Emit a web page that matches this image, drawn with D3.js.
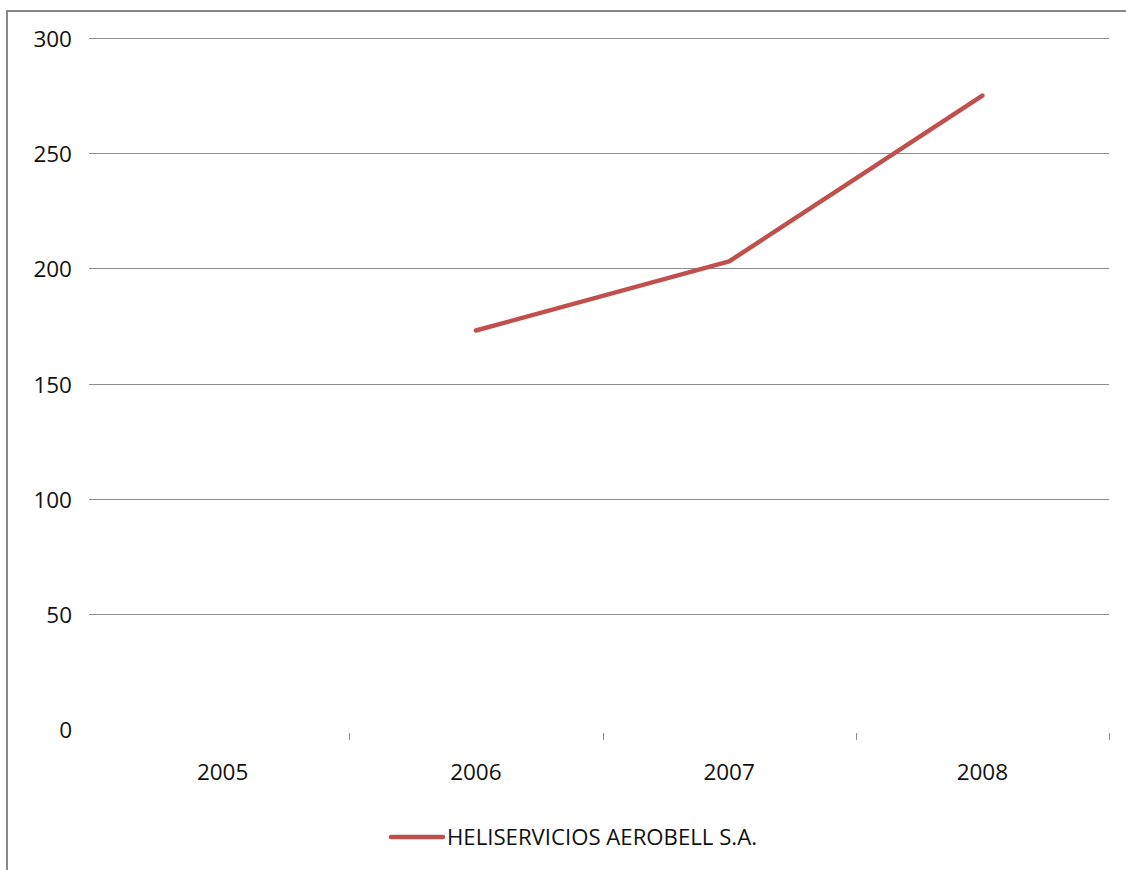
<!DOCTYPE html>
<html><head><meta charset="utf-8">
<script src="https://cdn.jsdelivr.net/npm/d3@7"></script>
<style>body{margin:0;background:#fff}svg{display:block}</style>
</head><body>
<script>
const categories = ["2005","2006","2007","2008"];
const seriesName = "HELISERVICIOS AEROBELL S.A.";
const values = [null, 173, 203, 275];
const yTicks = [0,50,100,150,200,250,300];

(function(){
const W=1126,H=870;
const svg=d3.select("body").append("svg").attr("width",W).attr("height",H);
const font="'Open Sans', 'Noto Sans', sans-serif";
const fs=22.5;
svg.append("rect").attr("x",7).attr("y",11).attr("width",W+10).attr("height",H+10)
  .attr("fill","none").attr("stroke","#888").attr("stroke-width",2);

const pLeft=96,pRight=1109,pTop=38,pBottom=729;
const x=d3.scaleBand().domain(categories).range([pLeft,pRight]).paddingInner(0).paddingOuter(0);
const y=d3.scaleLinear().domain([0,300]).range([pBottom,pTop]);

svg.append("g").selectAll("line").data(yTicks.filter(d=>d>0)).join("line")
  .attr("x1",89).attr("x2",pRight).attr("y1",d=>Math.round(y(d))+0.5).attr("y2",d=>Math.round(y(d))+0.5)
  .attr("stroke","#8c8c8c").attr("stroke-width",1);

svg.append("g").selectAll("text").data(yTicks).join("text")
  .attr("x",72).attr("y",d=>y(d)+1).attr("dy","0.36em").attr("text-anchor","end")
  .attr("font-family",font).attr("font-size",fs).attr("fill","#111").text(d=>d);

svg.append("g").selectAll("line").data(categories).join("line")
  .attr("x1",d=>Math.round(x(d)+x.bandwidth())+0.5)
  .attr("x2",d=>Math.round(x(d)+x.bandwidth())+0.5)
  .attr("y1",733).attr("y2",740).attr("stroke","#8c8c8c");

svg.append("g").selectAll("text").data(categories).join("text")
  .attr("x",d=>x(d)+x.bandwidth()/2).attr("y",772).attr("dy","0.36em").attr("text-anchor","middle")
  .attr("font-family",font).attr("font-size",fs).attr("fill","#111").text(d=>d);

const pts=categories.map((c,i)=>({c,v:values[i]})).filter(d=>d.v!=null);
svg.append("path").datum(pts)
  .attr("d",d3.line().x(d=>x(d.c)+x.bandwidth()/2).y(d=>y(d.v)))
  .attr("fill","none").attr("stroke","#C0504D").attr("stroke-width",4.5)
  .attr("stroke-linecap","round").attr("stroke-linejoin","round");

svg.append("line").attr("x1",391).attr("x2",443).attr("y1",837).attr("y2",837)
  .attr("stroke","#C0504D").attr("stroke-width",4.5).attr("stroke-linecap","round");
svg.append("text").attr("x",447).attr("y",837).attr("dy","0.36em")
  .attr("font-family",font).attr("font-size",fs).attr("fill","#111")
  .attr("textLength",310).attr("lengthAdjust","spacingAndGlyphs").text(seriesName);
})();
</script>
</body></html>
